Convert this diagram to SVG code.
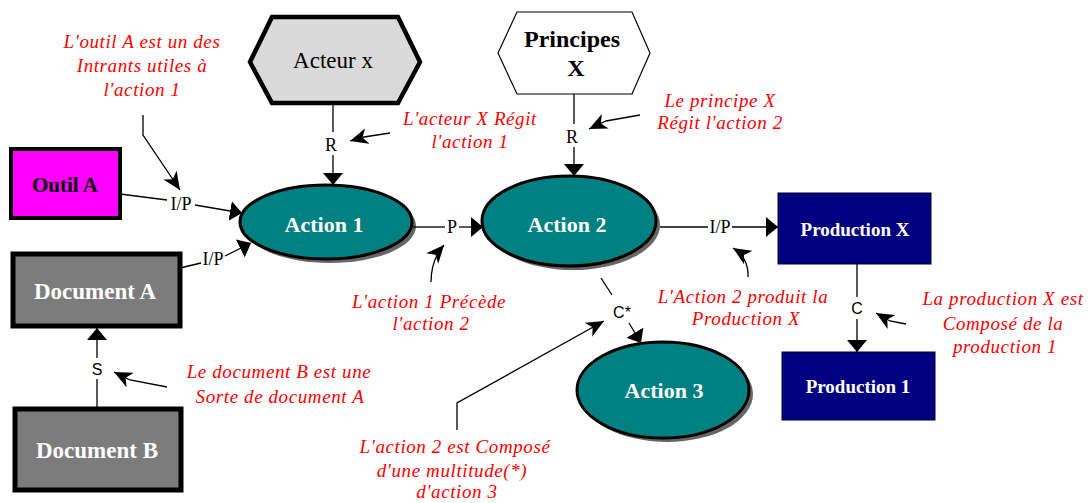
<svg xmlns="http://www.w3.org/2000/svg" width="1089" height="503" viewBox="0 0 1089 503">
<style>
.note{font-family:"Liberation Serif",serif;font-style:italic;font-size:19px;fill:#ff0000;letter-spacing:0.6px;text-anchor:middle}
.lbl{font-family:"Liberation Serif",serif;font-size:18px;fill:#000;text-anchor:middle}
.lbls{font-family:"Liberation Sans",sans-serif;font-size:16px;fill:#000;text-anchor:middle}
.wt{font-family:"Liberation Serif",serif;font-weight:bold;fill:#fff;text-anchor:middle}
.bt{font-family:"Liberation Serif",serif;font-weight:bold;fill:#000;text-anchor:middle}
.act{fill:#008080;stroke:#000;stroke-width:3}
.shadow{fill:#333;opacity:0.75}
.doc{fill:#7c7c7c;stroke:#000;stroke-width:5}
.prod{fill:#000080;stroke:#000030;stroke-width:1}
.con{fill:none;stroke:#000;stroke-width:1.3}
.call{fill:none;stroke:#000;stroke-width:1.3}
</style>
<defs>
<marker id="arr" viewBox="0 0 12 20" refX="12" refY="10" markerWidth="12" markerHeight="20" markerUnits="userSpaceOnUse" orient="auto">
<path d="M0,0 L12,10 L0,20 z" fill="#000"/>
</marker>
<marker id="dart" viewBox="0 0 18 16" refX="18" refY="8" markerWidth="18" markerHeight="16" markerUnits="userSpaceOnUse" orient="auto">
<path d="M0,0 L18,8 L0,16 L5,8 z" fill="#000"/>
</marker>
</defs>

<g id="acteur">
<polygon points="250,62 272,17 398,17 420,62 398,103 272,103" fill="#dadada" stroke="#000" stroke-width="4.5"/>
<text x="333" y="68" font-family="Liberation Serif, serif" font-size="23" text-anchor="middle" fill="#000">Acteur x</text>
</g>

<g id="principes">
<polygon points="498,53 517,12 632,12 650,53 632,94 517,94" fill="#fff" stroke="#000" stroke-width="1.2"/>
<text class="bt" x="572" y="47" font-size="24">Principes</text>
<text class="bt" x="576" y="76" font-size="24">X</text>
</g>

<g id="outil">
<rect x="11" y="149" width="109" height="69" fill="#ff00ff" stroke="#000" stroke-width="4"/>
<text class="bt" x="65" y="192" font-size="21">Outil A</text>
</g>

<g id="documentA">
<rect x="13" y="254" width="167" height="72" class="doc"/>
<text class="wt" x="95" y="299" font-size="23">Document A</text>
</g>

<g id="documentB">
<rect x="15" y="409" width="166" height="81" class="doc"/>
<text class="wt" x="97" y="458" font-size="23">Document B</text>
</g>

<g id="action1">
<ellipse cx="330" cy="226" rx="86" ry="37" class="shadow"/>
<ellipse cx="326" cy="222" rx="86" ry="37" class="act"/>
<text class="wt" x="324" y="232" font-size="22">Action 1</text>
</g>

<g id="action2">
<ellipse cx="573" cy="225" rx="87" ry="45" class="shadow"/>
<ellipse cx="569" cy="221" rx="87" ry="45" class="act"/>
<text class="wt" x="567" y="232" font-size="22">Action 2</text>
</g>

<g id="action3">
<ellipse cx="667" cy="394" rx="86" ry="48" class="shadow"/>
<ellipse cx="663" cy="390" rx="86" ry="48" class="act"/>
<text class="wt" x="664" y="398" font-size="22">Action 3</text>
</g>

<g id="productionX">
<rect x="778" y="193" width="153" height="71" class="prod"/>
<text class="wt" x="855" y="236" font-size="19">Production X</text>
</g>

<g id="production1">
<rect x="782" y="352" width="153" height="68" class="prod"/>
<text class="wt" x="858" y="393" font-size="19">Production 1</text>
</g>

<g id="connectors">
<line class="con" x1="333" y1="103" x2="333" y2="132"/>
<text class="lbl" x="331" y="151">R</text>
<line class="con" x1="333" y1="155" x2="333" y2="185" marker-end="url(#arr)"/>
<line class="con" x1="574" y1="94" x2="574" y2="124"/>
<text class="lbl" x="572" y="143">R</text>
<line class="con" x1="574" y1="147" x2="574" y2="176" marker-end="url(#arr)"/>
<line class="con" x1="120" y1="194" x2="167" y2="200"/>
<text class="lbl" x="181" y="210">I/P</text>
<line class="con" x1="195" y1="205" x2="242" y2="213" marker-end="url(#arr)"/>
<line class="con" x1="180" y1="268" x2="201" y2="263"/>
<text class="lbl" x="213" y="265">I/P</text>
<line class="con" x1="225" y1="256" x2="251" y2="243" marker-end="url(#arr)"/>
<line class="con" x1="413" y1="227" x2="445" y2="227"/>
<text class="lbl" x="452" y="233">P</text>
<line class="con" x1="459" y1="227" x2="483" y2="227" marker-end="url(#arr)"/>
<line class="con" x1="660" y1="227" x2="708" y2="227"/>
<text class="lbl" x="720" y="233">I/P</text>
<line class="con" x1="732" y1="227" x2="778" y2="227" marker-end="url(#arr)"/>
<line class="con" x1="601" y1="278" x2="612" y2="295"/>
<text class="lbls" x="622" y="318">C*</text>
<line class="con" x1="629" y1="323" x2="641" y2="343" marker-end="url(#arr)"/>
<line class="con" x1="857" y1="264" x2="857" y2="297"/>
<text class="lbls" x="857" y="314">C</text>
<line class="con" x1="857" y1="319" x2="857" y2="352" marker-end="url(#arr)"/>
<line class="con" x1="97" y1="407" x2="97" y2="379"/>
<text class="lbls" x="97" y="375">S</text>
<line class="con" x1="97" y1="358" x2="97" y2="328" marker-end="url(#arr)"/>
</g>

<g id="annotations">
<text class="note" x="142" y="48">L'outil A est un des</text>
<text class="note" x="142" y="72">Intrants utiles à</text>
<text class="note" x="142" y="96">l'action 1</text>
<polyline class="call" points="143,115 143,135 180,190" marker-end="url(#dart)"/>

<text class="note" x="470" y="125">L'acteur X Régit</text>
<text class="note" x="470" y="148">l'action 1</text>
<polyline class="call" points="390,133 364,137 350,141" marker-end="url(#dart)"/>

<text class="note" x="720" y="107">Le principe X</text>
<text class="note" x="720" y="129">Régit l'action 2</text>
<polyline class="call" points="640,115 606,121 589,129" marker-end="url(#dart)"/>

<text class="note" x="429" y="308">L'action 1 Précède</text>
<text class="note" x="431" y="330">l'action 2</text>
<path class="call" d="M431,282 Q431,260 444,245" marker-end="url(#dart)"/>

<text class="note" x="743" y="303">L'Action 2 produit la</text>
<text class="note" x="746" y="325">Production X</text>
<path class="call" d="M748,277 Q749,258 733,248" marker-end="url(#dart)"/>

<text class="note" x="1003" y="305">La production X est</text>
<text class="note" x="1003" y="330">Composé de la</text>
<text class="note" x="1005" y="353">production 1</text>
<polyline class="call" points="906,324 890,321 876,313" marker-end="url(#dart)"/>

<text class="note" x="279" y="378">Le document B est une</text>
<text class="note" x="280" y="403">Sorte de document A</text>
<polyline class="call" points="167,387 130,380 114,372" marker-end="url(#dart)"/>

<text class="note" x="455" y="453">L'action 2 est Composé</text>
<text class="note" x="452" y="477">d'une multitude(*)</text>
<text class="note" x="457" y="498">d'action 3</text>
<polyline class="call" points="457,430 457,403 604,321" marker-end="url(#dart)"/>
</g>
</svg>
